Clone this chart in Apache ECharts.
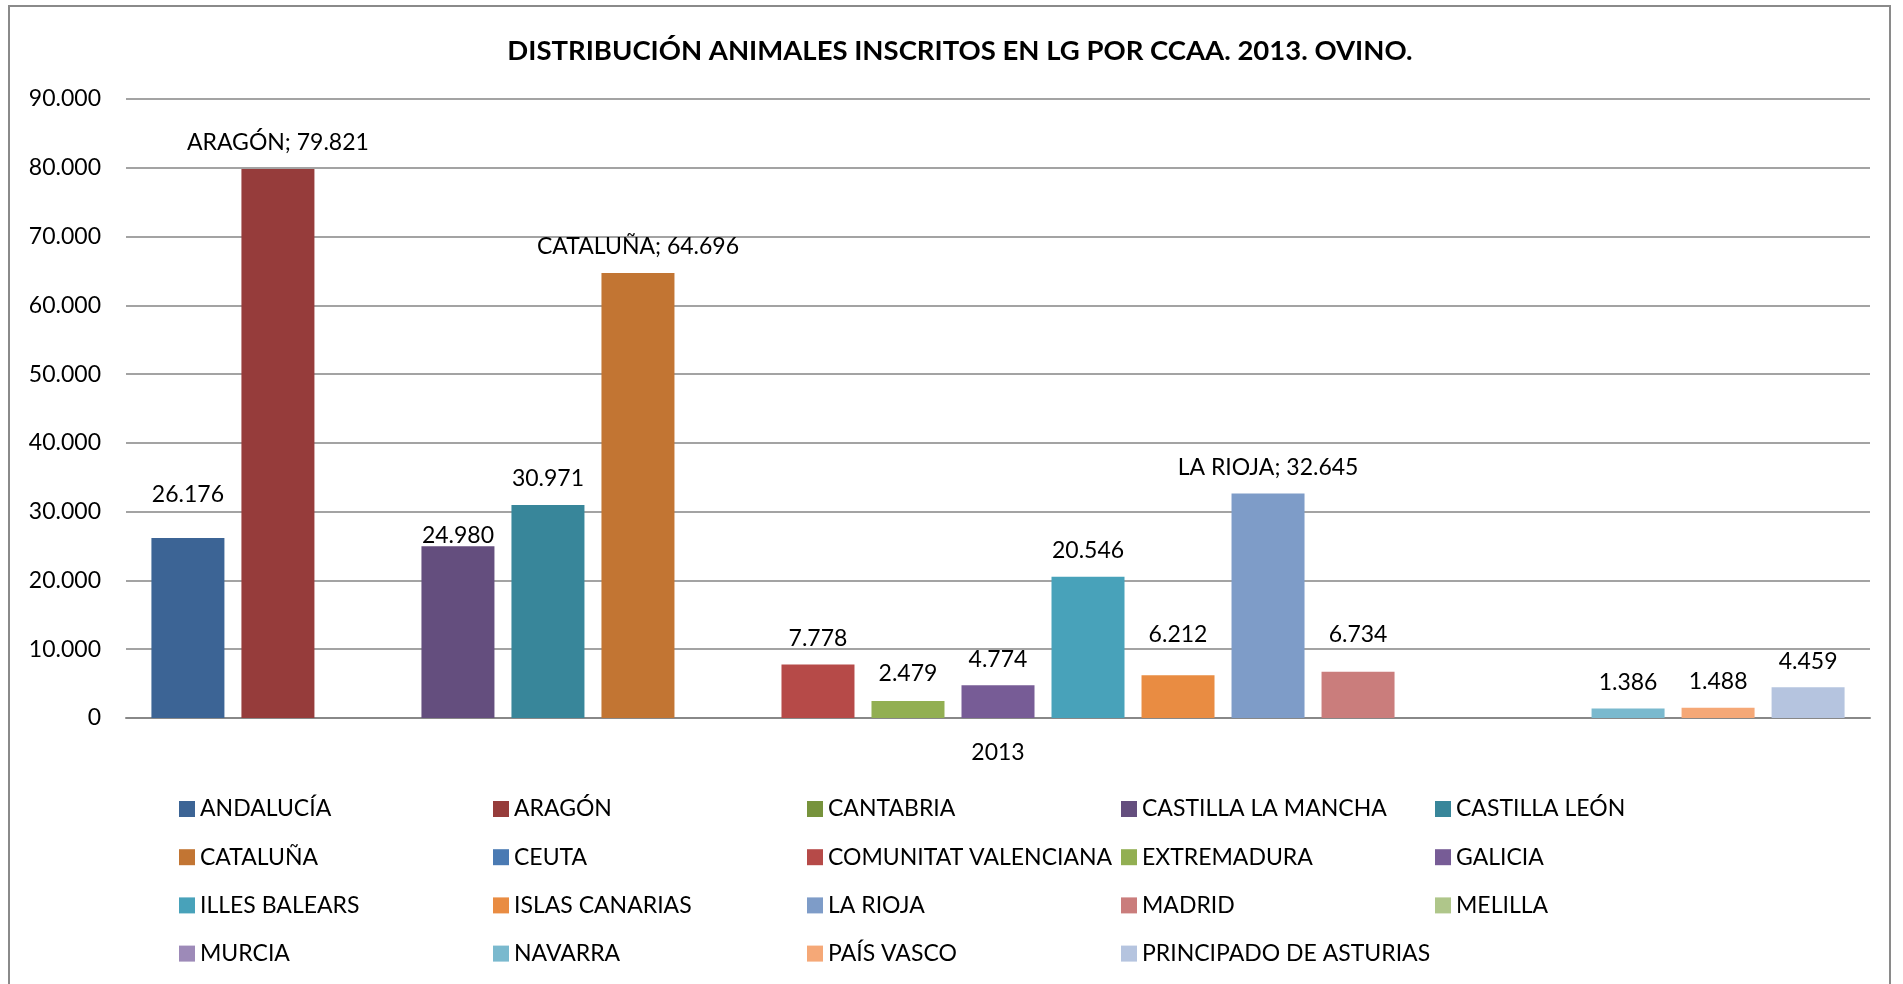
<!DOCTYPE html>
<html>
<head>
<meta charset="utf-8">
<script src="https://cdn.jsdelivr.net/npm/echarts@6/dist/echarts.min.js"></script>
<style>
html,body{margin:0;padding:0;background:#fff;}
#chart{width:1903px;height:984px;}
</style>
</head>
<body>
<div id="chart"></div>
<script>
// ---- data ----
const categories = ['2013'];
const regions = ['ANDALUCÍA','ARAGÓN','CANTABRIA','CASTILLA LA MANCHA','CASTILLA LEÓN','CATALUÑA','CEUTA','COMUNITAT VALENCIANA','EXTREMADURA','GALICIA','ILLES BALEARS','ISLAS CANARIAS','LA RIOJA','MADRID','MELILLA','MURCIA','NAVARRA','PAÍS VASCO','PRINCIPADO DE ASTURIAS'];
const values = [26176, 79821, null, 24980, 30971, 64696, null, 7778, 2479, 4774, 20546, 6212, 32645, 6734, null, null, 1386, 1488, 4459];
const namedLabels = ['ARAGÓN','CATALUÑA','LA RIOJA'];
const yTicks = [0, 10000, 20000, 30000, 40000, 50000, 60000, 70000, 80000, 90000];
const titleText = 'DISTRIBUCIÓN ANIMALES INSCRITOS EN LG POR CCAA. 2013. OVINO.';

// ---- styles ----
const colors = ['#3C6495','#963C3B','#77933C','#644E7E','#38869A','#C27533','#4A7AB3','#B64A48','#92AF52','#775C96','#48A2BA','#E98C42','#7E9CC8','#CA7D7C','#AFC68A','#9D8AB8','#7AB9CE','#F5A877','#B5C4DF'];
const labelLift = {'ANDALUCÍA':17,'CASTILLA LA MANCHA':-15,'ISLAS CANARIAS':15,'MADRID':11,'EXTREMADURA':1};
const FONT = 'Lato';
const fmt = v => String(v).replace(/\B(?=(\d{3})+(?!\d))/g, '.');

const series = regions.map((name, i) => ({
  name: name,
  type: 'bar',
  barWidth: 73,
  barGap: '23.3%',
  itemStyle: { color: colors[i] },
  data: [values[i]],
  label: {
    show: true,
    position: 'top',
    distance: 13,
    offset: [0, -(labelLift[name] || 0)],
    fontFamily: FONT,
    fontSize: 23,
    lineHeight: 26,
    color: '#000',
    formatter: p => namedLabels.includes(name) ? name + '; ' + fmt(p.value) : fmt(p.value)
  }
}));

const legends = regions.map((name, i) => {
  const col = i % 5, row = Math.floor(i / 5);
  return {
    data: [name],
    left: 179 + col * 314,
    top: 809 + row * 48.2 - 12,
    itemWidth: 16,
    itemHeight: 16,
    icon: 'rect',
    padding: 0,
    itemGap: 0,
    selectedMode: false,
    textStyle: { fontFamily: FONT, fontSize: 23, lineHeight: 24, color: '#000' }
  };
});

const chart = echarts.init(document.getElementById('chart'));
chart.setOption({
  animation: false,
  backgroundColor: '#fff',
  title: {
    text: titleText,
    left: 955,
    textAlign: 'center',
    top: 32,
    textStyle: { fontFamily: FONT, fontWeight: 'bold', fontSize: 27.5, color: '#000' }
  },
  graphic: [{
    type: 'rect',
    shape: { x: 9, y: 6, width: 1881, height: 1000 },
    style: { fill: 'none', stroke: '#8a8a8a', lineWidth: 2 },
    silent: true
  }],
  legend: legends,
  grid: { left: 126, right: 33, top: 99, bottom: 266, containLabel: false },
  xAxis: {
    type: 'category',
    data: categories,
    axisTick: { show: false },
    axisLine: { lineStyle: { color: '#888', width: 2 } },
    axisLabel: { fontFamily: FONT, fontSize: 23, color: '#000', margin: 23 }
  },
  yAxis: {
    type: 'value',
    min: yTicks[0],
    max: yTicks[yTicks.length - 1],
    interval: yTicks[1] - yTicks[0],
    axisLine: { show: false },
    axisTick: { show: false },
    splitLine: { lineStyle: { color: '#a3a3a3', width: 2 } },
    axisLabel: { fontFamily: FONT, fontSize: 23, color: '#000', margin: 25, formatter: v => fmt(v) }
  },
  series: series
});
</script>
</body>
</html>
